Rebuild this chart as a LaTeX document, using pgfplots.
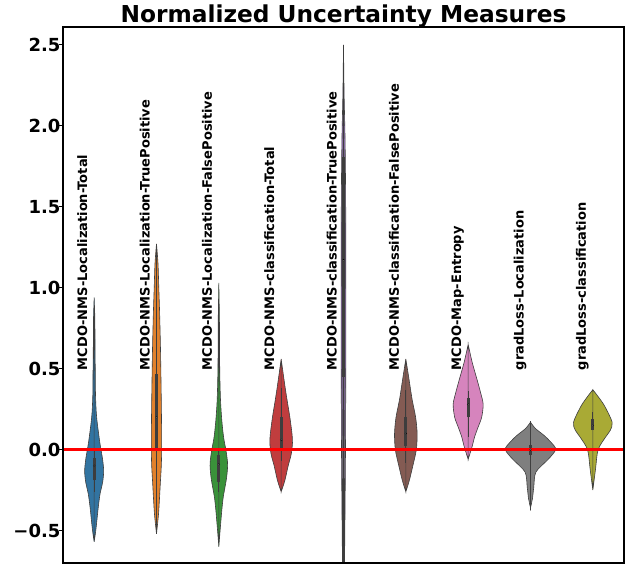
\documentclass[border=0pt]{standalone}
\usepackage{fontspec}
\setmainfont{DejaVu Sans}
\usepackage{pgfplots}
\usepackage{pgfplotstable}
\pgfplotsset{compat=1.18}
\usepgfplotslibrary{fillbetween}

\definecolor{c0}{HTML}{3274A1}
\definecolor{c1}{HTML}{E1812C}
\definecolor{c2}{HTML}{3A923A}
\definecolor{c3}{HTML}{C03D3E}
\definecolor{c4}{HTML}{9372B2}
\definecolor{c5}{HTML}{845B53}
\definecolor{c6}{HTML}{D684BD}
\definecolor{c7}{HTML}{7F7F7F}
\definecolor{c8}{HTML}{A9AA35}
\definecolor{vline}{HTML}{3F3F3F}
\definecolor{boxc}{HTML}{3D3D3D}

% violin half-widths (w, in px) against value (y)
\pgfplotstableread{
y w
0.94 0
0.80 0.7
0.60 0.9
0.45 1.2
0.35 1.3
0.25 1.9
0.18 2.8
0.12 4.0
0.05 5.5
0.00 6.8
-0.05 8.2
-0.10 9.2
-0.14 9.5
-0.20 8.5
-0.27 6.0
-0.33 4.6
-0.39 3.5
-0.45 2.5
-0.51 1.4
-0.57 0
}\vA
\pgfplotstableread{
y w
1.27 0
1.15 1.5
1.00 2.3
0.85 3.1
0.65 3.9
0.47 4.4
0.25 4.9
0.02 5.2
-0.10 4.8
-0.20 3.9
-0.29 3.1
-0.40 2.0
-0.52 0
}\vB
\pgfplotstableread{
y w
1.03 0
0.80 0.6
0.55 0.8
0.40 1.2
0.29 1.8
0.18 3.0
0.08 4.7
0.00 7.0
-0.05 8.2
-0.10 8.8
-0.18 7.6
-0.29 4.5
-0.36 3.2
-0.43 2.2
-0.52 1.0
-0.60 0
}\vC
\pgfplotstableread{
y w
0.56 0
0.47 2.0
0.37 4.3
0.28 6.6
0.20 8.7
0.10 10.8
0.04 11.3
-0.03 10.0
-0.10 7.0
-0.19 3.7
-0.26 0
}\vD
\pgfplotstableread{
y w
2.50 0
2.20 0.6
1.90 1.6
1.50 2.2
1.00 2.3
0.50 2.3
0.00 2.0
-0.40 1.5
-0.72 1.0
}\vE
\pgfplotstableread{
y w
0.56 0
0.45 2.8
0.31 6.3
0.20 9.8
0.10 11.3
0.00 10.5
-0.10 7.0
-0.19 3.5
-0.26 0
}\vF
\pgfplotstableread{
y w
0.65 0
0.54 4.0
0.43 9.0
0.35 12.5
0.28 15.0
0.20 13.5
0.14 10.0
0.08 6.5
0.02 4.0
-0.06 0
}\vG
\pgfplotstableread{
y w
0.17 0
0.13 5.0
0.08 15.0
0.01 25.0
-0.03 22.0
-0.07 16.0
-0.14 5.3
-0.23 3.3
-0.30 2.0
-0.36 0
}\vH
\pgfplotstableread{
y w
0.37 0
0.33 5.0
0.27 11.7
0.17 19.3
0.12 17.5
0.08 13.0
0.00 5.3
-0.12 2.7
-0.25 0
}\vI

% args: center, colour, table, whisker low, whisker high, q1, q3, median, box width
\newcommand{\violin}[9]{%
  \addplot[draw=none, smooth, name path=R#1] table[x expr=#1+\thisrow{w}/62.33, y=y] {#3};
  \addplot[draw=none, smooth, name path=L#1] table[x expr=#1-\thisrow{w}/62.33, y=y] {#3};
  \addplot[fill=#2, draw=vline, line width=0.6pt] fill between[of=R#1 and L#1];
  \addplot[boxc, line width=0.9pt] coordinates {(#1,#4) (#1,#5)};
  \addplot[boxc, line width=#9] coordinates {(#1,#6) (#1,#7)};
  \addplot[only marks, mark=*, mark size=0.9pt, draw=none, fill=white] coordinates {(#1,#8)};
}

\newcommand{\lab}[2]{\node[rotate=90, anchor=base west, inner sep=0pt,
  font=\bfseries\fontsize{13}{13}\selectfont] at (axis cs:#1-0.112,0.49) {#2};}

\begin{document}
\begin{tikzpicture}
\begin{axis}[
  scale only axis,
  width=561pt, height=536pt,
  xmin=-0.5, xmax=8.5,
  ymin=-0.70, ymax=2.61,
  xtick=\empty,
  ytick={-0.5,0,0.5,1,1.5,2,2.5},
  yticklabels={−0.5,0.0,0.5,1.0,1.5,2.0,2.5},
  yticklabel style={font=\bfseries\fontsize{18}{18}\selectfont, xshift=5pt},
  ytick pos=left,
  tick align=outside,
  major tick length=4pt,
  tick style={black, line width=1pt},
  axis line style={draw=none},
  title={Normalized Uncertainty Measures},
  title style={font=\bfseries\fontsize{23.3}{23.3}\selectfont, anchor=base, yshift=-2pt},
  clip=true,
]
\violin{0}{c0}{\vA}{-0.26}{-0.01}{-0.19}{-0.05}{-0.10}{3.3pt}
\violin{1}{c1}{\vB}{-0.11}{0.85}{0.0}{0.47}{0.20}{3.3pt}
\violin{2}{c2}{\vC}{-0.26}{0.0}{-0.20}{-0.03}{-0.09}{3.3pt}
\violin{3}{c3}{\vD}{-0.07}{0.38}{0.01}{0.20}{0.06}{3.3pt}
\violin{4}{c4}{\vE}{-0.72}{2.50}{0.45}{1.81}{1.17}{2.2pt}
\violin{5}{c5}{\vF}{-0.08}{0.37}{0.02}{0.20}{0.10}{3.3pt}
\violin{6}{c6}{\vG}{0.08}{0.36}{0.20}{0.32}{0.28}{3.3pt}
\violin{7}{c7}{\vH}{-0.05}{0.06}{-0.03}{0.03}{0.00}{3.3pt}
\violin{8}{c8}{\vI}{0.12}{0.23}{0.12}{0.19}{0.15}{3.3pt}
\addplot[red, line width=2.5pt] coordinates {(-0.5,0) (8.5,0)};
\lab{0}{MCDO-NMS-Localization-Total}
\lab{1}{MCDO-NMS-Localization-TruePositive}
\lab{2}{MCDO-NMS-Localization-FalsePositive}
\lab{3}{MCDO-NMS-classification-Total}
\lab{4}{MCDO-NMS-classification-TruePositive}
\lab{5}{MCDO-NMS-classification-FalsePositive}
\lab{6}{MCDO-Map-Entropy}
\lab{7}{gradLoss-Localization}
\lab{8}{gradLoss-classification}
\end{axis}
\draw[black, line width=2.2pt] (current axis.south west) rectangle (current axis.north east);
\pgfresetboundingbox
\path[use as bounding box] (-63pt,-4pt) rectangle (563pt,563pt);
\end{tikzpicture}
\end{document}
